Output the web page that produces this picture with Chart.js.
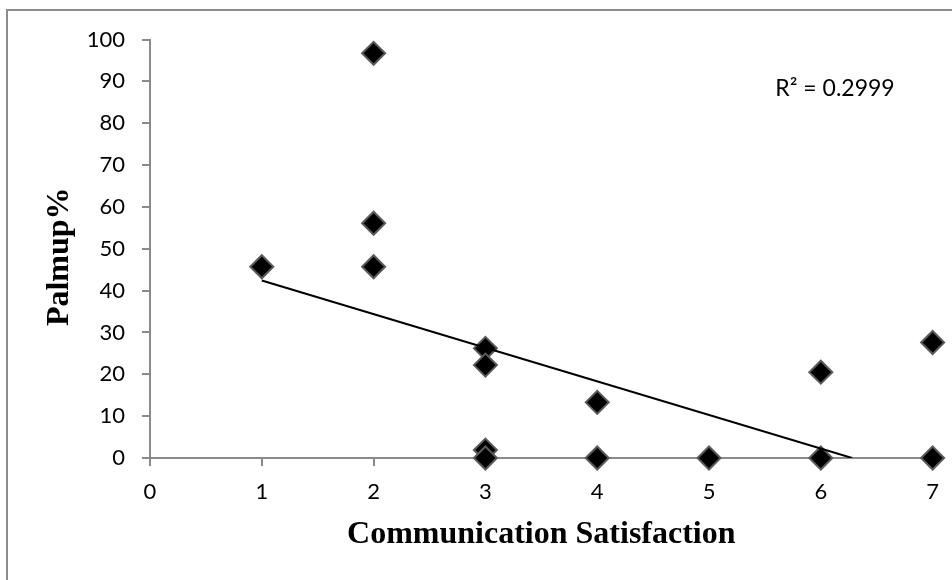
<!DOCTYPE html>
<html>
<head>
<meta charset="utf-8">
<script src="https://cdn.jsdelivr.net/npm/chart.js@4"></script>
<style>
  html, body { margin: 0; padding: 0; background: #fff; }
  #wrap { width: 952px; height: 580px; }
</style>
</head>
<body>
<div id="wrap"><canvas id="c" width="952" height="580"></canvas></div>
<script>
// ---- data ----
const satisfaction = [1, 2, 2, 2, 3, 3, 3, 3, 4, 4, 5, 6, 6, 7, 7];
const palmupPct    = [45.7, 96.7, 56.1, 45.7, 26.2, 22.2, 1.9, 0, 13.3, 0, 0, 20.5, 0, 27.6, 0];
const trendX = [1, 6.28];
const trendY = [42.4, 0];
const rSquaredLabel = 'R² = 0.2999';
const xTitle = 'Communication Satisfaction';
const yTitle = 'Palmup%';

const points = satisfaction.map((x, i) => ({ x: x, y: palmupPct[i] }));
const trend = trendX.map((x, i) => ({ x: x, y: trendY[i] }));

const AXIS = '#8a8a8a';

const framePlugin = {
  id: 'frame',
  beforeDraw(chart) {
    const ctx = chart.ctx;
    ctx.save();
    ctx.fillStyle = '#ffffff';
    ctx.fillRect(0, 0, chart.width, chart.height);
    ctx.strokeStyle = '#8c8c8c';
    ctx.lineWidth = 2;
    ctx.strokeRect(7, 10, 1200, 1200);
    ctx.restore();
  },
  afterDraw(chart) {
    const ctx = chart.ctx;
    ctx.save();
    ctx.font = '23px Lato';
    ctx.fillStyle = '#000';
    ctx.textAlign = 'center';
    ctx.textBaseline = 'middle';
    ctx.fillText(rSquaredLabel, 835, 89);
    ctx.restore();
  }
};

new Chart(document.getElementById('c'), {
  type: 'scatter',
  data: {
    datasets: [
      {
        type: 'line',
        label: 'Linear trend',
        data: trend,
        borderColor: '#000',
        borderWidth: 2,
        pointRadius: 0,
        fill: false,
        tension: 0
      },
      {
        label: 'Palmup%',
        data: points,
        pointStyle: 'rectRot',
        pointRadius: 11.5,
        pointHoverRadius: 11.5,
        backgroundColor: '#000',
        borderColor: '#5a5a5a',
        pointBorderWidth: 2,
        clip: false
      }
    ]
  },
  options: {
    responsive: false,
    animation: false,
    devicePixelRatio: 1,
    layout: { padding: { top: 39.5, right: 18, bottom: 0, left: 0 } },
    plugins: { legend: { display: false }, tooltip: { enabled: false } },
    scales: {
      x: {
        type: 'linear',
        min: 0, max: 7,
        ticks: { stepSize: 1, color: '#000', font: { family: 'Lato', size: 22 }, padding: 13 },
        grid: { drawOnChartArea: false, drawTicks: true, tickLength: 8, color: AXIS, lineWidth: 2 },
        border: { color: AXIS, width: 2 },
        title: {
          display: true, text: xTitle, color: '#000',
          font: { family: 'Liberation Serif', size: 32, weight: 'bold' },
          padding: { top: 0, bottom: 26 }
        },
        afterFit(s) { s.height = 122; }
      },
      y: {
        type: 'linear',
        min: 0, max: 100,
        ticks: { stepSize: 10, color: '#000', font: { family: 'Lato', size: 22 }, padding: 17 },
        grid: { drawOnChartArea: false, drawTicks: true, tickLength: 8, color: AXIS, lineWidth: 2 },
        border: { color: AXIS, width: 2 },
        title: {
          display: true, text: yTitle + '  ', color: '#000',
          font: { family: 'Liberation Serif', size: 32, weight: 'bold' },
          padding: { top: 41, bottom: 0 }
        },
        afterFit(s) { s.width = 150; }
      }
    }
  },
  plugins: [framePlugin]
});
</script>
</body>
</html>
